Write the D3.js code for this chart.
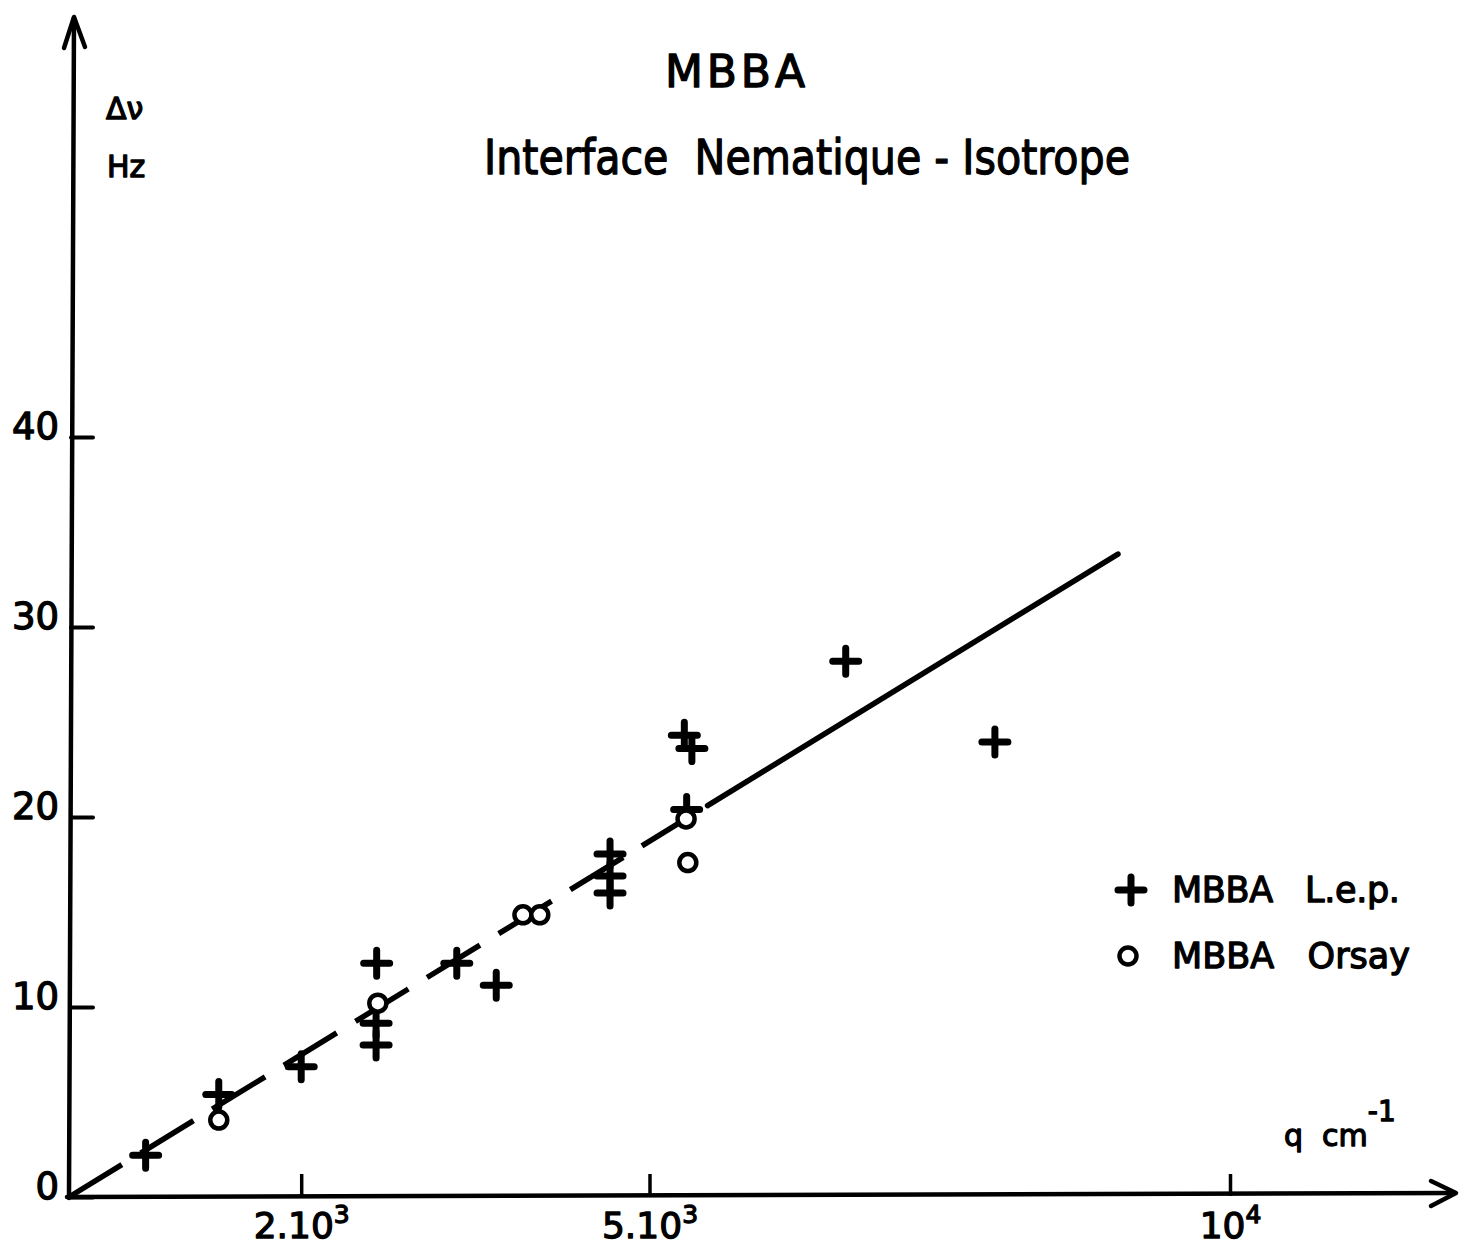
<!DOCTYPE html>
<html>
<head>
<meta charset="utf-8">
<script src="https://cdn.jsdelivr.net/npm/d3@7"></script>
<style>
  body { margin: 0; background: #fff; }
  svg { display: block; }
  text { font-family: "DejaVu Sans", sans-serif; fill: #000; white-space: pre; }
  .pen { stroke: #000; stroke-width: 1.3px; stroke-linejoin: round; }
</style>
</head>
<body>
<svg id="chart" width="1461" height="1253"></svg>
<script>
// MBBA L.e.p. (crosses)
let lepQ = [660, 1290, 2000, 2650, 2645, 2645, 3340, 3680, 4660, 4660, 4660, 5300, 5365, 5320, 6690, 7975];
let lepV = [2.2, 5.4, 6.85, 12.3, 9.15, 8.0, 12.3, 11.15, 18.05, 16.9, 16.0, 24.3, 23.6, 20.4, 28.2, 23.95];

// MBBA Orsay (circles)
let orsayQ = [1290, 2660, 3910, 4055, 5315, 5330];
let orsayV = [4.05, 10.2, 14.85, 14.85, 19.9, 17.6];

// fitted line: dashed part then solid part
let fitQ = [0, 5500, 9035];
let fitV = [0, 20.6, 33.84];

let yTicks = [0, 10, 20, 30, 40];
let xTicks = [2000, 5000, 10000];
let xTickLabels = [["2.10", "3"], ["5.10", "3"], ["10", "4"]];

let svg = d3.select("#chart");

let x = d3.scaleLinear().domain([0, 10000]).range([69, 1230]);
let y = d3.scaleLinear().domain([0, 40]).range([1197, 437]);

// axes lines with open arrows
let axes = svg.append("g")
    .attr("fill", "none")
    .attr("stroke", "#000")
    .attr("stroke-width", 4.5)
    .attr("stroke-linecap", "round")
    .attr("stroke-linejoin", "round");

axes.append("path").attr("d", "M69,1198 L74,18");
axes.append("path").attr("d", "M64,48 L74,17 L85,47");
axes.append("path").attr("d", "M67,1197 L1455,1193");
axes.append("path").attr("d", "M1431,1181 L1456,1193 L1431,1206");

// y axis ticks (pointing inward) and labels
let yAxis = svg.append("g")
    .attr("transform", "translate(71,0)")
    .call(d3.axisLeft(y)
        .tickValues(yTicks)
        .tickSizeInner(-22)
        .tickSizeOuter(0)
        .tickPadding(12));

yAxis.select(".domain").remove();
yAxis.selectAll(".tick line").attr("stroke-width", 4).attr("stroke-linecap", "round");
yAxis.selectAll(".tick text")
    .attr("font-family", "DejaVu Sans")
    .attr("font-size", 37)
    .attr("class", "pen")
    .attr("stroke-width", 1.8)
    .attr("dy", "0.04em");

// x axis ticks and labels with superscripts
let xAxis = svg.append("g")
    .attr("transform", "translate(0,1196)")
    .call(d3.axisBottom(x)
        .tickValues(xTicks)
        .tickSizeInner(-22)
        .tickSizeOuter(0)
        .tickPadding(16));

xAxis.select(".domain").remove();
xAxis.selectAll(".tick line").attr("stroke-width", 3.5);
xAxis.selectAll(".tick text")
    .attr("font-family", "DejaVu Sans")
    .attr("font-size", 36)
    .attr("class", "pen")
    .attr("stroke-width", 1.6)
    .text(null)
    .each(function (d, i) {
        let t = d3.select(this);
        t.append("tspan").text(xTickLabels[i][0]);
        t.append("tspan").attr("dy", "-0.6em").attr("font-size", 25).text(xTickLabels[i][1]);
    });

// fitted line
let line = d3.line().x(d => x(d[0])).y(d => y(d[1]));
let fitPts = fitQ.map((q, i) => [q, fitV[i]]);

svg.append("path")
    .attr("d", line(fitPts.slice(0, 2)))
    .attr("fill", "none")
    .attr("stroke", "#000")
    .attr("stroke-width", 5.5)
    .attr("stroke-dasharray", "62,22");

svg.append("path")
    .attr("d", line(fitPts.slice(1)))
    .attr("fill", "none")
    .attr("stroke", "#000")
    .attr("stroke-width", 5.5)
    .attr("stroke-linecap", "round");

// markers
let crossPath = "M-13,0 L13,0 M0,-13 L0,13";

svg.append("g").selectAll("path")
    .data(lepQ.map((q, i) => [q, lepV[i]]))
    .enter().append("path")
    .attr("transform", d => "translate(" + x(d[0]) + "," + y(d[1]) + ")")
    .attr("d", crossPath)
    .attr("stroke", "#000")
    .attr("stroke-width", 7)
    .attr("stroke-linecap", "round");

svg.append("g").selectAll("circle")
    .data(orsayQ.map((q, i) => [q, orsayV[i]]))
    .enter().append("circle")
    .attr("cx", d => x(d[0]))
    .attr("cy", d => y(d[1]))
    .attr("r", 8.5)
    .attr("fill", "#fff")
    .attr("stroke", "#000")
    .attr("stroke-width", 4.5);

// titles
svg.append("text").attr("class", "pen")
    .attr("x", 665).attr("y", 87)
    .attr("font-size", 44)
    .attr("textLength", 140)
    .attr("lengthAdjust", "spacing")
    .text("MBBA");

svg.append("text").attr("class", "pen")
    .attr("x", 484).attr("y", 174)
    .attr("font-family", "DejaVu Sans Condensed, DejaVu Sans")
    .attr("font-size", 48)
    .attr("textLength", 646)
    .attr("lengthAdjust", "spacingAndGlyphs")
    .text("Interface  Nematique - Isotrope");

// axis titles
svg.append("text").attr("class", "pen")
    .attr("x", 106).attr("y", 119)
    .attr("font-size", 30)
    .text("Δν");

svg.append("text").attr("class", "pen")
    .attr("x", 107).attr("y", 177)
    .attr("font-size", 30)
    .text("Hz");

let qLabel = svg.append("text").attr("class", "pen")
    .attr("x", 1284).attr("y", 1146)
    .attr("font-size", 30);
qLabel.append("tspan").text("q  cm");
qLabel.append("tspan").attr("dy", "-0.9em").attr("font-size", 28).text("-1");

// legend
let legend = svg.append("g");
legend.append("path")
    .attr("transform", "translate(1131,890)")
    .attr("d", crossPath)
    .attr("stroke", "#000")
    .attr("stroke-width", 7)
    .attr("stroke-linecap", "round");
legend.append("circle")
    .attr("cx", 1128).attr("cy", 956)
    .attr("r", 8.5)
    .attr("fill", "#fff")
    .attr("stroke", "#000")
    .attr("stroke-width", 4.5);
legend.append("text").attr("class", "pen")
    .attr("x", 1172).attr("y", 902)
    .attr("font-size", 35)
    .attr("textLength", 228)
    .attr("lengthAdjust", "spacing")
    .text("MBBA   L.e.p.");
legend.append("text").attr("class", "pen")
    .attr("x", 1172).attr("y", 968)
    .attr("font-size", 35)
    .attr("textLength", 238)
    .attr("lengthAdjust", "spacing")
    .text("MBBA   Orsay");
</script>
</body>
</html>
